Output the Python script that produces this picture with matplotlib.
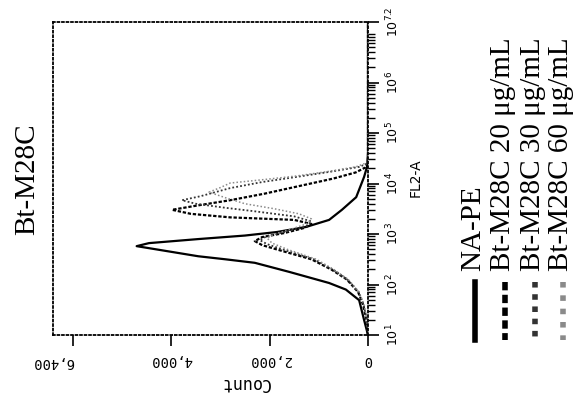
import numpy as np
import matplotlib
matplotlib.use('Agg')
import matplotlib.pyplot as plt
from matplotlib.lines import Line2D
from matplotlib.ticker import FixedLocator, LogLocator, NullFormatter

W, H = 578, 398

napé_log = [1.0, 1.3, 1.69, 1.9, 2.03, 2.25, 2.43, 2.50, 2.56, 2.68, 2.76, 2.82,
            2.90, 2.97, 3.04, 3.14, 3.28, 3.48, 3.73, 4.13, 4.33, 4.6, 7.2]
napé_cnt = [0, 80, 180, 450, 790, 1600, 2300, 2900, 3450, 4200, 4700, 4450,
            3450, 2500, 1850, 1260, 790, 530, 240, 80, 20, 0, 0]

c20_log = [1.0, 1.3, 1.6, 1.85, 2.1, 2.3, 2.5, 2.68, 2.78, 2.86, 2.94, 3.02, 3.12,
           3.2, 3.28, 3.33, 3.40, 3.48, 3.56, 3.67, 3.8, 3.95, 4.1, 4.22, 4.32, 4.45, 7.2]
c20_cnt = [0, 30, 100, 200, 430, 750, 1150, 1800, 2150, 2300, 2150, 1700, 1300,
           1150, 1500, 2800, 3600, 3980, 3500, 2800, 2100, 1400, 700, 250, 50, 0, 0]

c30_log = [1.0, 1.3, 1.6, 1.85, 2.1, 2.3, 2.5, 2.7, 2.8, 2.88, 2.96, 3.05, 3.15,
           3.25, 3.35, 3.45, 3.52, 3.6, 3.67, 3.75, 3.91, 4.03, 4.13, 4.23, 4.33, 4.4, 7.2]
c30_cnt = [0, 25, 90, 190, 420, 720, 1100, 1750, 2050, 2200, 2050, 1650, 1250,
           1150, 1500, 2300, 2900, 3500, 3780, 3400, 2800, 2150, 1460, 790, 180, 0, 0]

c60_log = [1.0, 1.3, 1.6, 1.85, 2.1, 2.3, 2.5, 2.7, 2.82, 2.92, 3.0, 3.1, 3.2,
           3.3, 3.4, 3.5, 3.6, 3.72, 3.83, 3.92, 4.01, 4.08, 4.15, 4.24, 4.33, 4.42, 7.2]
c60_cnt = [0, 20, 80, 180, 400, 700, 1050, 1650, 1950, 2050, 1900, 1550, 1250,
           1150, 1400, 1900, 2500, 2900, 3230, 3000, 2800, 2100, 1450, 800, 250, 0, 0]

labels = ['NA-PE', 'Bt-M28C 20 \u03bcg/mL', 'Bt-M28C 30 \u03bcg/mL', 'Bt-M28C 60 \u03bcg/mL']
count_ticks = [0, 2000, 4000, 6000]
count_labels = ['0', '2,000', '4,000', '']
fl2_ticks = [1, 2, 3, 4, 5, 6, 7.2]
fl2_labels = ['$10^{1}$', '$10^{2}$', '$10^{3}$', '$10^{4}$', '$10^{5}$', '$10^{6}$', '$10^{7.2}$']

styles = [dict(color='black', lw=1.6, ls='-'),
          dict(color='black', lw=1.6, ls=(0, (1.5, 0.8))),
          dict(color='#333333', lw=1.3, ls=(0, (1, 1.2))),
          dict(color='#8a8a8a', lw=1.1, ls=(0, (1, 1.4)))]


def fx(px):
    return px / W


def fy(py):
    return 1 - py / H


def main():
    fig = plt.figure(figsize=(W / 100, H / 100), dpi=100)
    ax = fig.add_axes([fx(53), fy(335), fx(368) - fx(53), fy(22) - fy(335)])

    series = [(napé_log, napé_cnt), (c20_log, c20_cnt), (c30_log, c30_cnt), (c60_log, c60_cnt)]
    for (lg, cn), st in zip(series, styles):
        ax.plot(cn, 10 ** np.array(lg), **st)

    ax.set_xlim(6400, 0)
    ax.set_yscale('log')
    ax.set_ylim(10, 10 ** 7.2)

    for s in ax.spines.values():
        s.set_linestyle((0, (1, 1.5)))
        s.set_linewidth(1.3)

    ax.xaxis.set_major_locator(FixedLocator(count_ticks))
    ax.set_xticklabels(count_labels, rotation=180, family='DejaVu Sans Mono', fontsize=10)
    ax.tick_params(axis='x', direction='out', length=8, width=1.2, pad=5)
    ax.text(6400, -0.085, '6,400', transform=ax.get_xaxis_transform(), rotation=180,
            ha='center', va='center', family='DejaVu Sans Mono', fontsize=10)

    ax.yaxis.tick_right()
    ax.yaxis.set_major_locator(FixedLocator([10 ** t for t in fl2_ticks]))
    ax.set_yticklabels(fl2_labels, rotation=90, fontsize=9, va='center')
    ax.yaxis.set_minor_locator(LogLocator(base=10, subs=np.arange(2, 10), numticks=20))
    ax.yaxis.set_minor_formatter(NullFormatter())
    ax.tick_params(axis='y', which='major', direction='out', length=8, width=1.2, pad=4)
    ax.tick_params(axis='y', which='minor', direction='out', length=5, width=1.0)

    fig.text(fx(245), fy(383), 'Count', rotation=180, ha='center', va='center',
             family='DejaVu Sans Mono', fontsize=12)
    fig.text(fx(416), fy(178), 'FL2-A', rotation=90, ha='center', va='center',
             family='DejaVu Sans', fontsize=10)
    fig.text(fx(27), fy(179), 'Bt-M28C', rotation=90, ha='center', va='center',
             family='Liberation Serif', fontsize=21)

    # legend drawn vertically, like the rotated original
    leg_x = [475, 505, 535, 563]
    for x, st, lab in zip(leg_x, styles, labels):
        fig.add_artist(Line2D([fx(x), fx(x)], [fy(282), fy(340)], transform=fig.transFigure,
                              color=st['color'], ls=st['ls'], lw=4.0))
        fig.text(fx(x - 2), fy(271), lab, rotation=90, ha='center', va='bottom',
                 family='Liberation Serif', fontsize=21)

    fig.savefig('out.png', dpi=100)


if __name__ == '__main__':
    main()
